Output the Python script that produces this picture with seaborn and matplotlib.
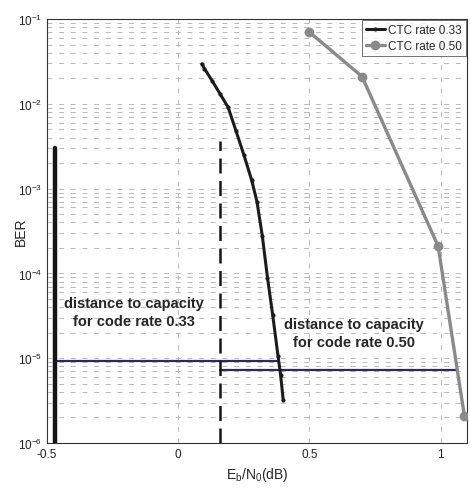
import numpy as np
import pandas as pd
import matplotlib
matplotlib.use("Agg")
import matplotlib.pyplot as plt
import seaborn as sns
from matplotlib.ticker import LogLocator, FixedLocator

# ---- data ----
ebn0_r033 = [0.09, 0.10, 0.13, 0.16, 0.19, 0.22, 0.25, 0.28, 0.30, 0.32, 0.34, 0.36, 0.38, 0.39, 0.40]
ber_r033 = [2.95e-2, 2.6e-2, 1.85e-2, 1.3e-2, 9.1e-3, 4.8e-3, 2.5e-3, 1.25e-3, 7.0e-4, 2.8e-4,
            8.9e-5, 3.2e-5, 1.07e-5, 6.3e-6, 3.2e-6]
ebn0_r050 = [0.50, 0.70, 0.99, 1.09]
ber_r050 = [7.0e-2, 2.1e-2, 2.1e-4, 2.1e-6]
series_names = ["CTC rate 0.33", "CTC rate 0.50"]

# capacity / distance markers
cap_x = [-0.47, 0.16]           # capacity limits (rate 0.33, rate 0.50)
cap_top = [3.0e-3, 3.6e-3]
dist_y = [9.2e-6, 7.2e-6]
dist_end = [0.38, 1.06]
annot_text = ["distance to capacity\nfor code rate 0.33", "distance to capacity\nfor code rate 0.50"]
annot_x = [-0.17, 0.67]
annot_y = [2.3e-5, 1.3e-5]

xticks = [-0.5, 0, 0.5, 1]
xtick_labels = ["-0.5", "0", "0.5", "1"]

df = pd.concat([
    pd.DataFrame({"x": ebn0_r033, "y": ber_r033, "s": series_names[0]}),
    pd.DataFrame({"x": ebn0_r050, "y": ber_r050, "s": series_names[1]}),
])

sns.set_style("white")
plt.rcParams["font.family"] = ["Liberation Sans", "DejaVu Sans"]
plt.rcParams["mathtext.fontset"] = "custom"
plt.rcParams["mathtext.rm"] = "Liberation Sans"

fig = plt.figure(figsize=(4.7, 4.89), dpi=100)
ax = fig.add_axes([0.100, 0.092, 0.8936, 0.867])

grid_kw = dict(color="#b8b8b8", lw=0.7, ls=(0, (5, 7)), zorder=0)
ax.set_yscale("log")
ax.set_xlim(-0.5, 1.1)
ax.set_ylim(1e-6, 1e-1)

sns.lineplot(data=df[df.s == series_names[0]], x="x", y="y", ax=ax, color="#1c1c1c",
             lw=2.2, marker="o", markersize=3, markeredgewidth=0, label=series_names[0],
             estimator=None, sort=False, zorder=4)
sns.lineplot(data=df[df.s == series_names[1]], x="x", y="y", ax=ax, color="#8a8a8a",
             lw=2.4, marker="o", markersize=7, markeredgewidth=0, label=series_names[1],
             estimator=None, sort=False, zorder=4)

ax.yaxis.set_major_locator(LogLocator(base=10, numticks=10))
ax.yaxis.set_minor_locator(LogLocator(base=10, subs=np.arange(2, 10), numticks=20))
ax.xaxis.set_major_locator(FixedLocator(xticks))
ax.set_xticklabels(xtick_labels)
ax.grid(True, which="major", axis="both", **grid_kw)
ax.grid(True, which="minor", axis="y", **grid_kw)

# capacity lines
ax.plot([cap_x[0], cap_x[0]], [1e-6, cap_top[0]], color="#151515", lw=3.2, zorder=5)
ax.plot([cap_x[1], cap_x[1]], [1e-6, cap_top[1]], color="#151515", lw=1.8, ls=(0, (6, 3)), zorder=5)
ax.plot([cap_x[0], dist_end[0]], [dist_y[0], dist_y[0]], color="#2b2d50", lw=1.6, zorder=3)
ax.plot([cap_x[1], dist_end[1]], [dist_y[1], dist_y[1]], color="#2b2d50", lw=1.6, zorder=3)

for t, xx, yy in zip(annot_text, annot_x, annot_y):
    ax.text(xx, yy, t, ha="center", va="bottom", fontsize=10.5, fontweight="bold",
            linespacing=1.3, zorder=6)

ax.tick_params(which="both", direction="in", labelsize=8.5, length=3, width=0.6,
               labelcolor="#222222")
ax.tick_params(which="minor", length=2)
for sp in ax.spines.values():
    sp.set_color("#333333")
    sp.set_linewidth(0.8)

ax.set_xlabel(r"$\mathregular{E_b/N_0}$(dB)", fontsize=10, labelpad=4)
ax.set_ylabel("BER", fontsize=10)
ax.yaxis.set_label_coords(-0.045, 0.5)

leg = ax.legend(loc="upper right", fontsize=8.5, frameon=True, fancybox=False,
                borderaxespad=0.1, handlelength=1.6, handletextpad=0.3,
                borderpad=0.3, labelspacing=0.4)
leg.get_frame().set_edgecolor("#333333")
leg.get_frame().set_linewidth(0.6)

fig.savefig("out.png", dpi=100)
